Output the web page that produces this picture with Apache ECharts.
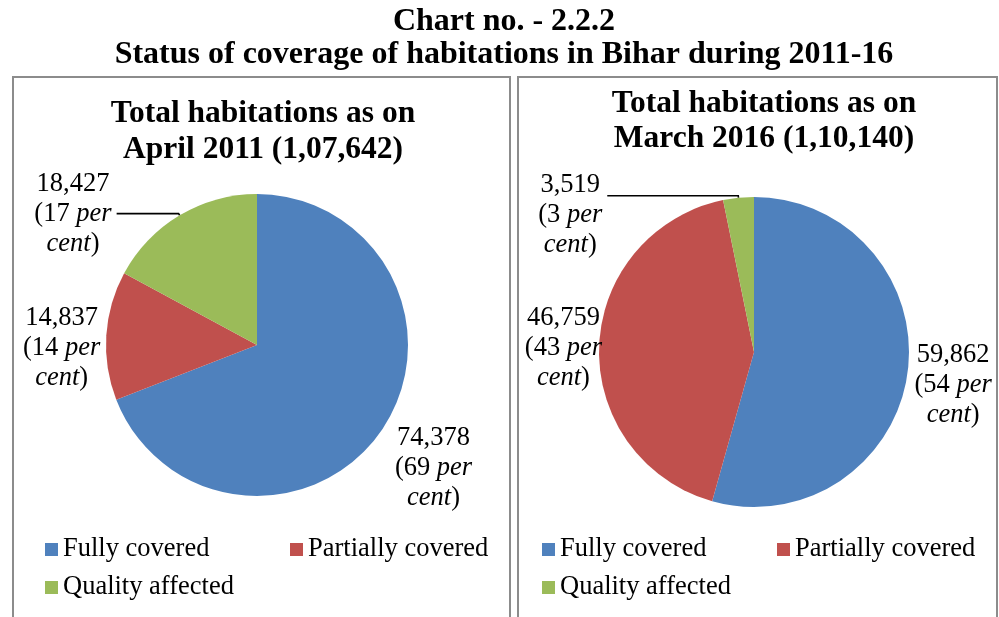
<!DOCTYPE html>
<html>
<head>
<meta charset="utf-8">
<title>Chart no. - 2.2.2</title>
<script src="https://cdn.jsdelivr.net/npm/echarts@6/dist/echarts.min.js"></script>
<style>
  html, body { margin: 0; padding: 0; background: #fff; }
  #chart { width: 999px; height: 617px; }
</style>
</head>
<body>
<div id="chart"></div>
<script>
// data
const categories = ["Fully covered", "Partially covered", "Quality affected"];
const values2011 = [74378, 14837, 18427];
const percent2011 = [69, 14, 17];
const values2016 = [59862, 46759, 3519];
const percent2016 = [54, 43, 3];
const colors = ["#4F81BD", "#C0504D", "#9BBB59"];

const serif = "Liberation Serif";

// label placement tweaks per slice (line length, padding on top, leader line shown or not)
const labelSet2011 = [
  { length: 10, length2: 0, pad: 64, line: false },
  { length: 0, length2: 1, pad: 24, line: false },
  { length: 2, length2: 62, pad: 0, line: true },
];
const labelSet2016 = [
  { length: 2, length2: 0, pad: 24, line: false },
  { length: -8, length2: 0, pad: 3, line: false },
  { length: 2, length2: 131, pad: 38, line: true },
];

const labelRich = {
  n: { fontFamily: serif, fontSize: 26.5, lineHeight: 30, color: "#000", align: "center" },
  i: { fontFamily: serif, fontSize: 26.5, lineHeight: 30, color: "#000", fontStyle: "italic", align: "center" },
};

function buildData(values, percents, sets) {
  return values.map(function (v, idx) {
    let s = sets[idx];
    return {
      name: categories[idx],
      value: v,
      itemStyle: { color: colors[idx] },
      label: {
        formatter:
          "{n|" + v.toLocaleString("en-US") + "}\n{n|(" + percents[idx] + " }{i|per}\n{i|cent}{n|)}",
        rich: labelRich,
        padding: [s.pad, 0, 0, 0],
      },
      labelLine: {
        show: s.line,
        length: s.length,
        length2: s.length2,
      },
    };
  });
}

function pieSeries(center, radius, data) {
  return {
    type: "pie",
    center: center,
    radius: radius,
    startAngle: 90,
    clockwise: true,
    avoidLabelOverlap: false,
    silent: true,
    label: { show: true, position: "outside", alignTo: "none" },
    labelLine: {
      show: true,
      smooth: false,
      minTurnAngle: 0,
      maxSurfaceAngle: 0,
      lineStyle: { color: "#000", width: 1.6 },
    },
    emphasis: { disabled: true },
    data: data,
  };
}

function legendFor(left, width, textWidth) {
  return {
    data: categories,
    left: left,
    top: 536,
    width: width,
    padding: 0,
    orient: "horizontal",
    icon: "rect",
    itemWidth: 13,
    itemHeight: 13,
    itemGap: 11,
    selectedMode: false,
    textStyle: {
      fontFamily: serif,
      fontSize: 26.5,
      lineHeight: 25,
      color: "#000",
      width: textWidth,
    },
  };
}

let myChart = echarts.init(document.getElementById("chart"), null, { renderer: "canvas" });

let option = {
  backgroundColor: "#fff",
  animation: false,
  title: [
    {
      text: "Chart no. - 2.2.2\nStatus of coverage of habitations in Bihar during 2011-16",
      left: 504,
      top: 5,
      padding: 0,
      textAlign: "center",
      textStyle: { fontFamily: serif, fontSize: 32, fontWeight: "bold", lineHeight: 33, color: "#000" },
    },
    {
      text: "Total habitations as on\nApril 2011 (1,07,642)",
      left: 263,
      top: 96,
      padding: 0,
      textAlign: "center",
      textStyle: { fontFamily: serif, fontSize: 31.5, fontWeight: "bold", lineHeight: 36, color: "#000" },
    },
    {
      text: "Total habitations as on\nMarch 2016 (1,10,140)",
      left: 764,
      top: 86,
      padding: 0,
      textAlign: "center",
      textStyle: { fontFamily: serif, fontSize: 31.5, fontWeight: "bold", lineHeight: 35, color: "#000" },
    },
  ],
  legend: [legendFor(45, 480, 216), legendFor(542, 460, 206)],
  graphic: [
    {
      type: "rect",
      shape: { x: 13, y: 77, width: 497, height: 580 },
      style: { fill: "none", stroke: "#8c8c8c", lineWidth: 2 },
      silent: true,
    },
    {
      type: "rect",
      shape: { x: 518, y: 77, width: 479, height: 580 },
      style: { fill: "none", stroke: "#8c8c8c", lineWidth: 2 },
      silent: true,
    },
  ],
  series: [
    pieSeries([257, 345], 151, buildData(values2011, percent2011, labelSet2011)),
    pieSeries([754, 352], 155, buildData(values2016, percent2016, labelSet2016)),
  ],
};

myChart.setOption(option);
</script>
</body>
</html>
